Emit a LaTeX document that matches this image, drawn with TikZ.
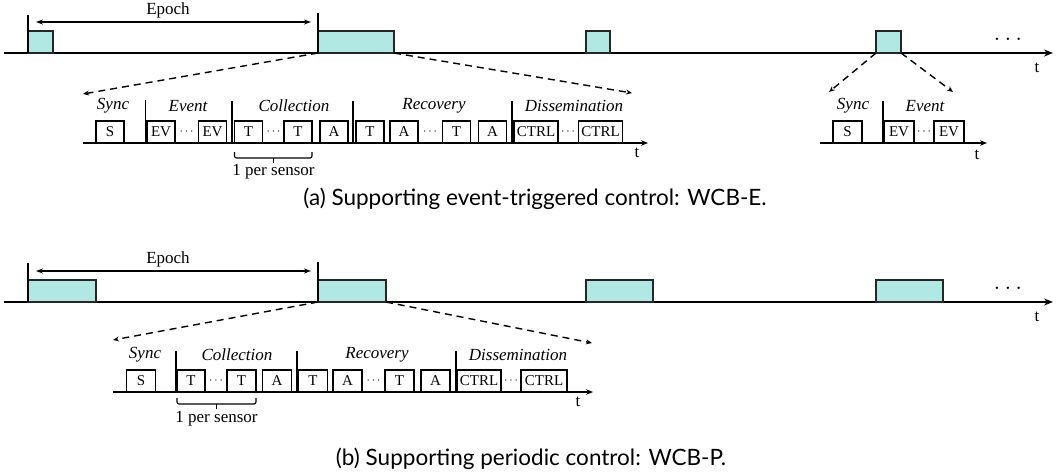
\documentclass[tikz,border=0pt]{standalone}
\usepackage{fontspec}
\setmainfont{Liberation Serif}
\newfontfamily\capfont{Lato}
\usetikzlibrary{arrows.meta}
\definecolor{blkfill}{HTML}{B2E8E4}
\begin{document}
\begin{tikzpicture}[x=1pt,y=-1pt,
  axis/.style={line width=1.5pt,-{Stealth[length=9pt,width=7pt]}},
  saxis/.style={line width=1.3pt,-{Stealth[length=7pt,width=5.5pt]}},
  blk/.style={draw=black!85,line width=1.2pt,fill=blkfill,inner sep=0pt,outer sep=0pt,anchor=south west,minimum height=22pt},
  slot/.style={draw,line width=1.3pt,inner sep=0pt,outer sep=0pt,minimum height=22pt,minimum width=28pt,font=\fontsize{15}{15}\selectfont},
  wide/.style={slot,minimum width=44pt},
  phase/.style={font=\fontsize{17}{17}\selectfont\itshape},
  lbl/.style={font=\fontsize{17}{17}\selectfont},
  dotsn/.style={font=\fontsize{13}{13}\selectfont,inner sep=0pt},
  bigdots/.style={font=\fontsize{24}{24}\selectfont,inner sep=0pt,anchor=base},
  tick/.style={line width=1.3pt},
  zoomline/.style={line width=1.4pt,dash pattern=on 7pt off 5pt,-{Stealth[length=6pt,width=5pt,open]}},
  epo/.style={line width=1.2pt,{Stealth[length=7pt,width=5pt]}-{Stealth[length=7pt,width=5pt]}},
  brace/.style={line width=1.1pt,rounded corners=2pt},
  captxt/.style={font=\capfont\fontsize{22.5}{22.5}\selectfont,anchor=base,inner sep=0pt}
]
\useasboundingbox (0,0) rectangle (1063,475);

% ================= (a) =================
\coordinate (aL) at (4,53);
\coordinate (aR) at (1053,53);
\draw[axis] (aL) -- (aR);
\node[lbl] (at) at (1037,68) {t};
\node[bigdots] (adots) at (1008,40) {$\ldots$};
\node[blk,minimum width=25pt] (a1) at (28,53) {};
\node[blk,minimum width=76pt] (a2) at (318,53) {};
\node[blk,minimum width=24pt] (a3) at (586,53) {};
\node[blk,minimum width=25pt] (a4) at (876,53) {};
\coordinate (at1) at (28,15);
\coordinate (at2) at (318,13);
\draw[tick] (at1) -- (a1.south west);
\draw[tick] (at2) -- (a2.south west);
\coordinate (ae1) at (36,22);
\coordinate (ae2) at (311,22);
\draw[epo] (ae1) -- (ae2);
\node[lbl] (aepoch) at (168,10) {Epoch};

% zoom lines
\coordinate (az1) at (83,94);
\coordinate (az2) at (632,93);
\coordinate (az3) at (829,92);
\coordinate (az4) at (953,92);
\draw[zoomline] (a2.south west) -- (az1);
\draw[zoomline] (a2.south east) -- (az2);
\draw[zoomline] (a4.south west) -- (az3);
\draw[zoomline] (a4.south east) -- (az4);

% detail (a)
\coordinate (adL) at (83,143);
\coordinate (adR) at (648,143);
\draw[saxis] (adL) -- (adR);
\node[lbl] (adt) at (637,153) {t};
\node[slot] (aS) at (110,132) {S};
\node[slot] (aEV1) at (161,132) {EV};
\node[dotsn] (ad1) at (186.5,132) {$\cdots$};
\node[slot] (aEV2) at (212.5,132) {EV};
\node[slot] (aT1) at (248.5,132) {T};
\node[dotsn] (ad2) at (273.5,132) {$\cdots$};
\node[slot] (aT2) at (298,132) {T};
\node[slot] (aA1) at (334,132) {A};
\node[slot] (aT3) at (370,132) {T};
\node[slot] (aA2) at (404,132) {A};
\node[dotsn] (ad3) at (430,132) {$\cdots$};
\node[slot] (aT4) at (456.5,132) {T};
\node[slot] (aA3) at (492.5,132) {A};
\node[wide] (aC1) at (536,132) {CTRL};
\node[dotsn] (ad4) at (568,132) {$\cdots$};
\node[wide] (aC2) at (600.5,132) {CTRL};
\draw[tick] (145.5,100) -- (145.5,143);
\draw[tick] (232,101) -- (232,143);
\draw[tick] (353,101) -- (353,143);
\draw[tick] (512,101) -- (512,143);
\node[phase] (apS) at (113,106) {Sync};
\node[phase] (apE) at (188,106) {Event};
\node[phase] (apC) at (294,106) {Collection};
\node[phase] (apR) at (434,106) {Recovery};
\node[phase] (apD) at (574,106) {Dissemination};
\draw[brace] (aT1.south west |- 0,152) -- (aT1.south west |- 0,158) -- (aT2.south east |- 0,158) -- (aT2.south east |- 0,152);
\draw[line width=1.1pt] (273.5,158) -- (273.5,163);
\node[lbl] (aper) at (273.5,172) {1 per sensor};

% right detail (a)
\coordinate (arL) at (820,143);
\coordinate (arR) at (987,143);
\draw[saxis] (arL) -- (arR);
\node[lbl] (art) at (977,155) {t};
\node[slot,minimum width=29pt] (arS) at (847.5,132) {S};
\node[slot,minimum width=30pt] (arEV1) at (899,132) {EV};
\node[dotsn] (ard) at (924,132) {$\cdots$};
\node[slot,minimum width=30pt] (arEV2) at (949,132) {EV};
\draw[tick] (883,101) -- (883,143);
\node[phase] (arpS) at (853,106) {Sync};
\node[phase] (arpE) at (925,106) {Event};

\node[captxt] (capa) at (535,205) {(a) Supporting event-triggered control: WCB-E.};

% ================= (b) =================
\coordinate (bL) at (4,302);
\coordinate (bR) at (1053,302);
\draw[axis] (bL) -- (bR);
\node[lbl] (bt) at (1037,317) {t};
\node[bigdots] (bdots) at (1008,289) {$\ldots$};
\node[blk,minimum width=68pt] (b1) at (28,302) {};
\node[blk,minimum width=68pt] (b2) at (318,302) {};
\node[blk,minimum width=67pt] (b3) at (586,302) {};
\node[blk,minimum width=67pt] (b4) at (876,302) {};
\coordinate (bt1) at (28,263);
\coordinate (bt2) at (318,262);
\draw[tick] (bt1) -- (b1.south west);
\draw[tick] (bt2) -- (b2.south west);
\coordinate (be1) at (36,271);
\coordinate (be2) at (311,271);
\draw[epo] (be1) -- (be2);
\node[lbl] (bepoch) at (168,259) {Epoch};

\coordinate (bz1) at (113,340);
\coordinate (bz2) at (592,343);
\draw[zoomline] (b2.south west) -- (bz1);
\draw[zoomline] (b2.south east) -- (bz2);

% detail (b)
\coordinate (bdL) at (113,392);
\coordinate (bdR) at (593,392);
\draw[saxis] (bdL) -- (bdR);
\node[lbl] (bdt) at (578,402) {t};
\node[slot,minimum width=29pt] (bS) at (141,381) {S};
\node[slot,minimum width=28pt] (bT1) at (191,381) {T};
\node[dotsn] (bd1) at (216,381) {$\cdots$};
\node[slot,minimum width=29pt] (bT2) at (241.5,381) {T};
\node[slot,minimum width=29pt] (bA1) at (277,381) {A};
\node[slot,minimum width=29pt] (bT3) at (313,381) {T};
\node[slot,minimum width=29pt] (bA2) at (347.5,381) {A};
\node[dotsn] (bd2) at (373.5,381) {$\cdots$};
\node[slot,minimum width=29pt] (bT4) at (399.5,381) {T};
\node[slot,minimum width=29pt] (bA3) at (435.5,381) {A};
\node[wide] (bC1) at (479,381) {CTRL};
\node[dotsn] (bd3) at (511,381) {$\cdots$};
\node[wide,minimum width=46pt] (bC2) at (544,381) {CTRL};
\draw[tick] (176,351) -- (176,392);
\draw[tick] (297,351) -- (297,392);
\draw[tick] (456,351) -- (456,392);
\node[phase] (bpS) at (145,355) {Sync};
\node[phase] (bpC) at (237,355) {Collection};
\node[phase] (bpR) at (377,355) {Recovery};
\node[phase] (bpD) at (518,355) {Dissemination};
\draw[brace] (bT1.south west |- 0,398) -- (bT1.south west |- 0,404) -- (bT2.south east |- 0,404) -- (bT2.south east |- 0,398);
\draw[line width=1.1pt] (216.5,404) -- (216.5,409);
\node[lbl] (bper) at (216.5,419) {1 per sensor};

\node[captxt] (capb) at (531,465) {(b) Supporting periodic control: WCB-P.};
\end{tikzpicture}
\end{document}
